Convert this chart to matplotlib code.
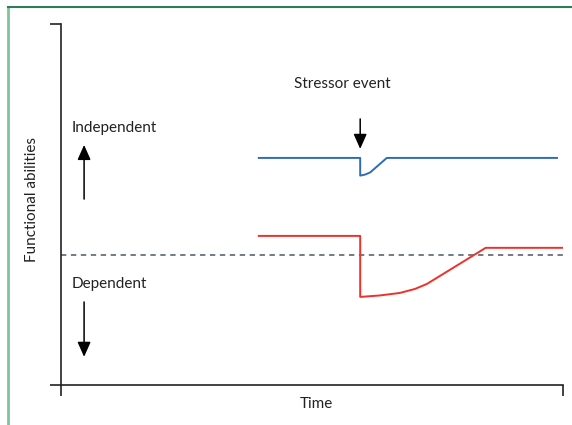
import matplotlib
matplotlib.use("Agg")
import matplotlib.pyplot as plt
from matplotlib.lines import Line2D

plt.rcParams['font.family'] = ['Lato', 'DejaVu Sans']

# time axis 0-100, functional ability 0-100
blue_x = [39.4, 59.6, 59.6, 60.6, 61.6, 64.9, 98.8]
blue_y = [62.9, 62.9, 58.0, 58.3, 58.9, 62.9, 62.9]

red_x = [39.4, 59.6, 59.6, 63.5, 67.5, 70.5, 72.9, 84.6, 99.8]
red_y = [41.3, 41.3, 24.4, 24.8, 25.5, 26.6, 28.0, 38.0, 38.0]

threshold = 36.0
event_time = 59.6

W, H = 572, 425
fig = plt.figure(figsize=(W / 100, H / 100), dpi=100)
ax = fig.add_axes([61 / W, 40 / H, 502 / W, 361 / H])
ax.set_xlim(0, 100)
ax.set_ylim(0, 100)

for s in ['top', 'right']:
    ax.spines[s].set_visible(False)
for s in ['left', 'bottom']:
    ax.spines[s].set_linewidth(1.2)
    ax.spines[s].set_color('#222222')

ax.set_xticks([0, 100])
ax.set_yticks([0, 100])
ax.set_xticklabels([])
ax.set_yticklabels([])
ax.tick_params(length=8, width=1.2, color='#222222')

ax.axhline(threshold, color='#4a5866', lw=1.1, ls=(0, (3.5, 3)))
ax.plot(blue_x, blue_y, color='#2e6db4', lw=1.4)
ax.plot(red_x, red_y, color='#f0302a', lw=1.4)

arrow = dict(arrowstyle='-|>,head_width=0.4,head_length=0.9', color='black', lw=1.1,
             shrinkA=0, shrinkB=0)
ax.annotate('', xy=(event_time, 65.4), xytext=(event_time, 73.7), arrowprops=arrow)
ax.annotate('', xy=(4.6, 66.5), xytext=(4.6, 51.5), arrowprops=arrow)
ax.annotate('', xy=(4.6, 7.8), xytext=(4.6, 23.0), arrowprops=arrow)

ax.text(56, 83.4, 'Stressor event', ha='center', va='center', fontsize=11, color='#222222')
ax.text(2.2, 71.2, 'Independent', ha='left', va='center', fontsize=11, color='#222222')
ax.text(2.2, 28.0, 'Dependent', ha='left', va='center', fontsize=11, color='#222222')

fig.text(316 / W, 1 - 404 / H, 'Time', ha='center', va='center', fontsize=11, color='#222222')
fig.text(32 / W, 1 - 200 / H, 'Functional abilities', ha='center', va='center',
         rotation=90, fontsize=11, color='#222222')

# green frame of the panel
fig.add_artist(Line2D([8 / W, 8 / W], [0, 1 - 7 / H], transform=fig.transFigure,
                      color='#7cc49a', lw=2))
fig.add_artist(Line2D([8 / W, 1], [1 - 7 / H, 1 - 7 / H], transform=fig.transFigure,
                      color='#2e7d5a', lw=1.5))

fig.savefig('out.png', dpi=100)
